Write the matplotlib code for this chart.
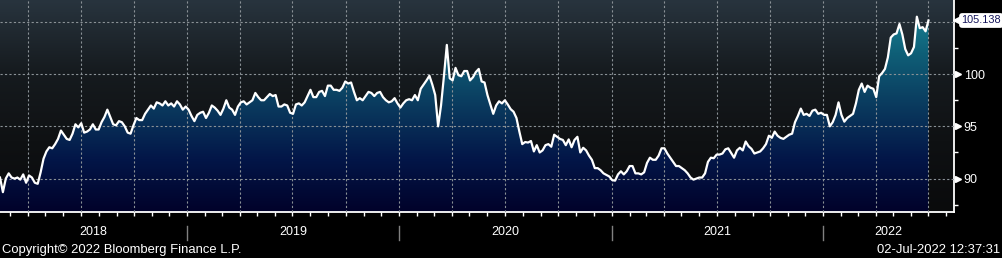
import numpy as np
import pandas as pd
import matplotlib
matplotlib.use("Agg")
import matplotlib.pyplot as plt
import matplotlib.dates as mdates
import matplotlib.transforms as mtransforms
from matplotlib.colors import LinearSegmentedColormap
from matplotlib.ticker import FixedLocator, FixedFormatter, NullFormatter

plt.rcParams["font.family"] = ["Liberation Sans", "DejaVu Sans"]

# index level, one reading every 5 days from 2018-02-12 up to 2022-07-01
start = "2018-02-12"
dxy_2018 = [90.1, 88.7, 90.0, 90.5, 90.1, 90.0, 90.1, 89.9, 90.4, 89.6,
            90.3, 90.1, 89.6, 89.5, 90.6, 91.9, 92.6, 93.0, 92.9, 93.3,
            93.8, 94.6, 94.2, 93.8, 93.7, 94.3, 95.2, 94.9, 95.3, 94.4,
            94.5, 94.7, 95.2, 94.7, 94.7, 95.4, 95.9, 96.6, 95.9, 95.2,
            95.1, 95.5, 95.4, 95.0, 94.4, 94.3, 95.1, 95.8, 95.6, 95.6,
            96.2, 96.6, 97.0, 96.7, 97.3, 97.2, 97.0, 97.4, 97.0, 97.2,
            96.9, 97.4, 97.1, 96.6, 96.9]
dxy_2019 = [96.6, 96.0, 95.5, 96.1, 96.3, 96.4, 95.8, 96.3, 97.0, 96.8,
            96.5, 96.1, 96.7, 97.5, 96.8, 96.6, 96.1, 96.9, 97.3, 97.4,
            97.1, 97.3, 97.5, 98.2, 97.8, 97.5, 97.5, 97.8, 98.1, 97.9,
            98.0, 96.9, 96.9, 97.1, 97.0, 96.3, 96.2, 97.1, 97.2, 97.0,
            97.3, 97.9, 98.5, 97.8, 97.8, 98.3, 98.4, 97.9, 98.9, 98.9,
            98.5, 98.5, 98.4, 98.7, 99.3, 99.1, 99.2, 98.3, 97.5, 97.7,
            97.5, 97.9, 98.3, 98.2, 97.9, 98.2, 98.3, 97.8, 97.5, 97.3,
            97.4, 97.7, 97.2]
dxy_2020 = [96.8, 97.2, 97.5, 97.6, 97.5, 98.0, 97.5, 98.6, 99.0, 99.4,
            99.85, 99.0, 98.0, 95.0, 97.0, 99.8, 102.8, 99.6, 99.4, 100.6,
            99.9, 99.8, 100.3, 100.3, 99.4, 99.7, 100.2, 100.5, 99.3, 99.2,
            98.0, 97.1, 96.2, 97.0, 97.4, 97.2, 97.5, 97.1, 96.65, 96.4,
            95.8, 94.5, 93.3, 93.5, 93.45, 93.6, 92.6, 93.2, 92.5, 92.7,
            93.2, 93.3, 93.05, 94.2, 94.0, 93.8, 93.7, 93.2, 93.75, 93.0,
            93.7, 94.0, 92.5, 92.95, 92.7, 92.2, 91.8, 91.0, 91.0, 90.8,
            90.5, 90.35, 90.2]
dxy_2021 = [89.85, 89.8, 90.4, 90.7, 90.4, 90.7, 91.2, 91.2, 90.5, 90.5,
            90.4, 90.6, 91.5, 92.0, 91.8, 91.8, 92.2, 92.9, 92.9, 92.4,
            92.0, 91.6, 91.2, 91.2, 91.0, 90.8, 90.5, 90.1, 89.9, 90.0,
            90.1, 90.1, 90.5, 91.6, 92.0, 91.95, 92.3, 92.3, 92.4, 92.8,
            92.9, 92.45, 92.0, 92.7, 92.95, 92.7, 93.55, 93.1, 92.85, 92.4,
            92.5, 92.6, 92.9, 93.3, 94.1, 93.9, 94.5, 94.1, 93.9, 93.8,
            94.0, 94.2, 94.3, 95.4, 96.0, 96.7, 96.1, 96.2, 96.0, 96.5,
            96.6, 96.2, 96.3]
dxy_2022 = [96.1, 96.1, 95.0, 95.4, 96.1, 97.3, 96.1, 95.45, 95.8, 96.0,
            96.2, 97.2, 98.5, 99.1, 98.3, 98.9, 98.7, 98.6, 97.8, 99.8,
            100.1, 100.5, 101.6, 103.5, 103.8, 103.9, 104.8, 103.8, 102.4, 101.8,
            102.0, 102.6, 105.5, 104.4, 104.5, 104.1, 105.138]

last_label = "105.138"
years = [2018, 2019, 2020, 2021, 2022]
y_ticks = [90, 95, 100, 105]
y_labels = ["90", "95", "100", ""]   # 105 sits under the last-value tag
y_minor = [87.5, 92.5, 97.5, 102.5]
copyright_text = "Copyright\u00a9 2022 Bloomberg Finance L.P."
stamp_text = "02-Jul-2022 12:37:31"

values = np.array(dxy_2018 + dxy_2019 + dxy_2020 + dxy_2021 + dxy_2022)
dates = pd.date_range(start, periods=len(values), freq="5D")
xnum = mdates.date2num(dates)

x_lo = mdates.date2num(pd.Timestamp("2018-02-12"))
x_hi = mdates.date2num(pd.Timestamp("2022-08-14"))
y_lo, y_hi = 86.8, 107.1

fig = plt.figure(figsize=(10.03, 2.58), dpi=100, facecolor="black")
rect = [0, 46 / 258, 954 / 1003, 212 / 258]

# dark slate-to-black backdrop
bg_ax = fig.add_axes(rect, zorder=0)
bg_cmap = LinearSegmentedColormap.from_list("bg", ["#0a0b0c", "#0f1113", "#161b1f", "#28343e"])
bg_ax.imshow(np.linspace(0, 1, 256).reshape(-1, 1), cmap=bg_cmap, origin="lower",
             aspect="auto", extent=[0, 1, 0, 1])
bg_ax.set_axis_off()

ax = fig.add_axes(rect, zorder=1)
ax.patch.set_alpha(0)

# gradient area under the line
poly = ax.fill_between(xnum, values, y_lo, color="none", lw=0)
fill_cmap = LinearSegmentedColormap.from_list(
    "fill", ["#01022a", "#031648", "#0a3a5e", "#0f5f77", "#1a8c9c"])
img = ax.imshow(np.linspace(0, 1, 256).reshape(-1, 1), cmap=fill_cmap, origin="lower",
                aspect="auto", extent=[xnum[0], xnum[-1], y_lo, y_hi], zorder=1)
img.set_clip_path(poly.get_paths()[0], transform=ax.transData)

ax.plot(xnum, values, color="white", lw=1.6, zorder=4, solid_joinstyle="round")

ax.set_xlim(x_lo, x_hi)
ax.set_ylim(y_lo, y_hi)

# quarterly grid, monthly ticks
ax.xaxis.set_major_locator(mdates.MonthLocator(bymonth=[1, 4, 7, 10]))
ax.xaxis.set_minor_locator(mdates.MonthLocator())
ax.xaxis.set_major_formatter(NullFormatter())
ax.tick_params(axis="x", which="both", direction="out", length=3, width=1, color="white")

ax.yaxis.tick_right()
ax.yaxis.set_major_locator(FixedLocator(y_ticks))
ax.yaxis.set_major_formatter(FixedFormatter(y_labels))
ax.yaxis.set_minor_locator(FixedLocator(y_minor))
ax.tick_params(axis="y", which="major", length=0, pad=7, labelsize=9, labelcolor="white")
ax.tick_params(axis="y", which="minor", direction="out", length=3, width=1, color="white")

ax.set_axisbelow(False)
ax.grid(True, which="major", color="#8a9196", linestyle=(0, (2, 2)), lw=0.8)

for side in ["top", "left"]:
    ax.spines[side].set_visible(False)
for side in ["bottom", "right"]:
    ax.spines[side].set_color("white")
    ax.spines[side].set_linewidth(1.3)

# pointers next to the right labels
px = fig.dpi_scale_trans
right_tr = mtransforms.blended_transform_factory(ax.transAxes, ax.transData)
ax.plot([1] * 3, y_ticks[:3], ls="none", marker=">", ms=5, color="white", clip_on=False,
        transform=right_tr + mtransforms.ScaledTranslation(0.04, 0, px))

# last value tag
ax.plot([1], [values[-1]], ls="none", marker="<", ms=8, color="white", clip_on=False,
        transform=right_tr + mtransforms.ScaledTranslation(0.05, 0, px), zorder=6)
ax.text(1, values[-1], last_label, ha="left", va="center", fontsize=7.8, color="#14145a",
        transform=right_tr + mtransforms.ScaledTranslation(0.075, 0, px), zorder=7,
        bbox=dict(boxstyle="round,pad=0.22,rounding_size=0.3", fc="white", ec="none"))

# year separators and labels under the axis
sep_tr = mtransforms.blended_transform_factory(ax.transData, ax.transAxes)
for yr in years[1:]:
    d = mdates.date2num(pd.Timestamp(f"{yr}-01-01"))
    ax.plot([d, d], [-0.066, -0.133], color="#808080", lw=1, transform=sep_tr, clip_on=False)
for yr in years:
    a = max(mdates.date2num(pd.Timestamp(f"{yr}-01-01")), x_lo)
    b = min(mdates.date2num(pd.Timestamp(f"{yr + 1}-01-01")), x_hi)
    ax.text((a + b) / 2, -0.094, str(yr), transform=sep_tr, ha="center", va="center",
            color="white", fontsize=9)

fig.text(2 / 1003, 1 - 250 / 258, copyright_text, ha="left", va="center",
         color="white", fontsize=9.4)
fig.text(1000 / 1003, 1 - 250 / 258, stamp_text, ha="right", va="center",
         color="white", fontsize=9.4)

fig.savefig("out.png", dpi=100, facecolor="black")
